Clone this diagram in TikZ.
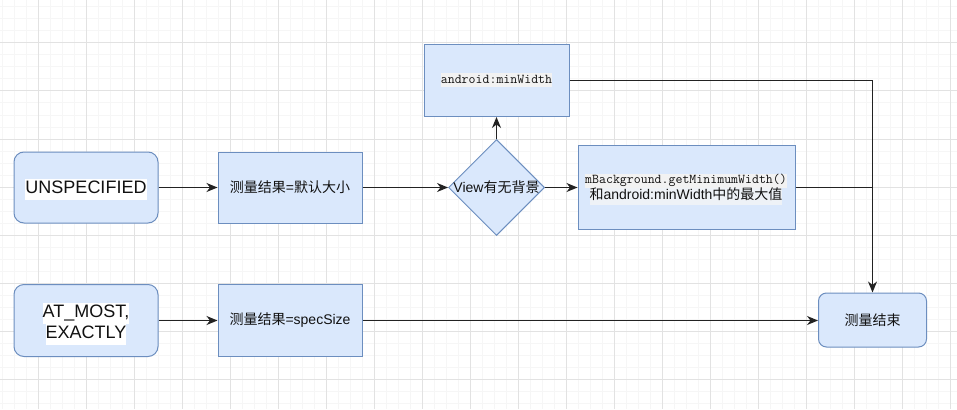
\documentclass[tikz,border=0pt]{standalone}
\usepackage{fontspec}
\setmainfont{Liberation Sans}
\newfontfamily\cjk{Noto Sans CJK SC}
\usetikzlibrary{shapes.geometric,arrows.meta}
\definecolor{boxfill}{HTML}{DAE8FC}
\definecolor{boxline}{HTML}{6C8EBF}
\definecolor{gridmajor}{HTML}{E2E2E2}
\definecolor{gridminor}{HTML}{F6F6F6}
\definecolor{txt}{HTML}{111111}
\definecolor{codebg}{HTML}{F2F2F2}
\definecolor{codebgb}{HTML}{EEF2F7}
\definecolor{wire}{HTML}{222222}
\newcommand{\zh}[1]{{\cjk #1}}
\newcommand{\hlbox}[2]{{\setlength{\fboxsep}{0pt}\colorbox{#1}{\strut #2}}}
\tikzset{
  base/.style={draw=boxline, fill=boxfill, line width=1pt, text=txt, inner sep=0pt, align=center,
    font=\fontsize{14}{17}\selectfont},
  roundbox/.style={base, rounded corners=10pt, minimum width=144pt, minimum height=71pt},
  sqbox/.style={base, minimum width=144pt, minimum height=71pt},
  decision/.style={base, diamond, minimum width=96pt, minimum height=96pt, aspect=1},
  plaintext/.style={text=txt, inner sep=0pt, align=center, font=\fontsize{14}{17}\selectfont},
  codetext/.style={text=txt, inner sep=0pt, font=\ttfamily\fontsize{13.5}{14}\selectfont},
  bigtext/.style={text=txt, inner sep=0pt, align=center, font=\fontsize{18}{21}\selectfont},
  wireline/.style={draw=wire, line width=1.1pt},
  arr/.style={wireline, -{Stealth[length=11pt,width=9pt,inset=3.5pt]}},
  gridminorline/.style={draw=gridminor, line width=1pt},
  gridmajorline/.style={draw=gridmajor, line width=1pt}
}
\begin{document}
\begin{tikzpicture}[x=1pt,y=-1pt]
\useasboundingbox (0,0) rectangle (957,409);
\fill[white] (0,0) rectangle (957,409);
% grid
\foreach \x in {2,14,...,957} \draw[gridminorline] (\x,0) -- (\x,409);
\foreach \y in {7,19,...,409} \draw[gridminorline] (0,\y) -- (957,\y);
\foreach \x in {38,86,...,957} \draw[gridmajorline] (\x,0) -- (\x,409);
\foreach \y in {43,91,...,409} \draw[gridmajorline] (0,\y) -- (957,\y);

% nodes
\node[roundbox] (uns) at (86,187.5) {};
\node[bigtext] (unst) at (86,189) {\hlbox{white}{UNSPECIFIED}};
\node[sqbox] (def) at (290,187.5) {\zh{测量结果}=\zh{默认大小}};
\node[roundbox, minimum height=72pt] (atm) at (86,320.5) {};
\node[bigtext] (atmt) at (86,323.5) {\hlbox{white}{AT\_MOST,}\\\hlbox{white}{EXACTLY}};
\node[sqbox, minimum height=72pt] (spec) at (290,320.5) {\zh{测量结果}=specSize};
\node[sqbox, minimum width=145pt, minimum height=72pt] (minw) at (496.5,80.5) {};
\node[codetext] (minwt) at (minw) {\hlbox{codebg}{android:minWidth}};
\node[decision] (dia) at (496.5,187.5) {};
\node[plaintext] (diat) at (dia) {View\zh{有无背景}};
\node[sqbox, minimum width=217pt, minimum height=84pt] (mbg) at (686.5,187.5) {};
\node[codetext] (mbga) at (686,180.5) {\hlbox{codebg}{mBackground.getMinimumWidth()}};
\node[plaintext] (mbgb) at (686,196.5) {\hlbox{codebgb}{\zh{和}android:minWidth\zh{中的最大值}}};
\node[base, rounded corners=8pt, minimum width=108pt, minimum height=54pt] (fin) at (872.5,320) {\zh{测量结束}};

% connectors
\draw[arr] (uns) -- (def);
\draw[arr] (def) -- (dia);
\draw[arr] (dia) -- (mbg);
\draw[arr] (dia) -- (minw);
\draw[arr] (atm) -- (spec);
\draw[arr] (spec.east) -- (spec.east -| fin.west);
\draw[arr] (minw.east) -| (fin.north);
\draw[wireline] (mbg.east) -- (mbg.east -| fin.north);
\end{tikzpicture}
\end{document}
